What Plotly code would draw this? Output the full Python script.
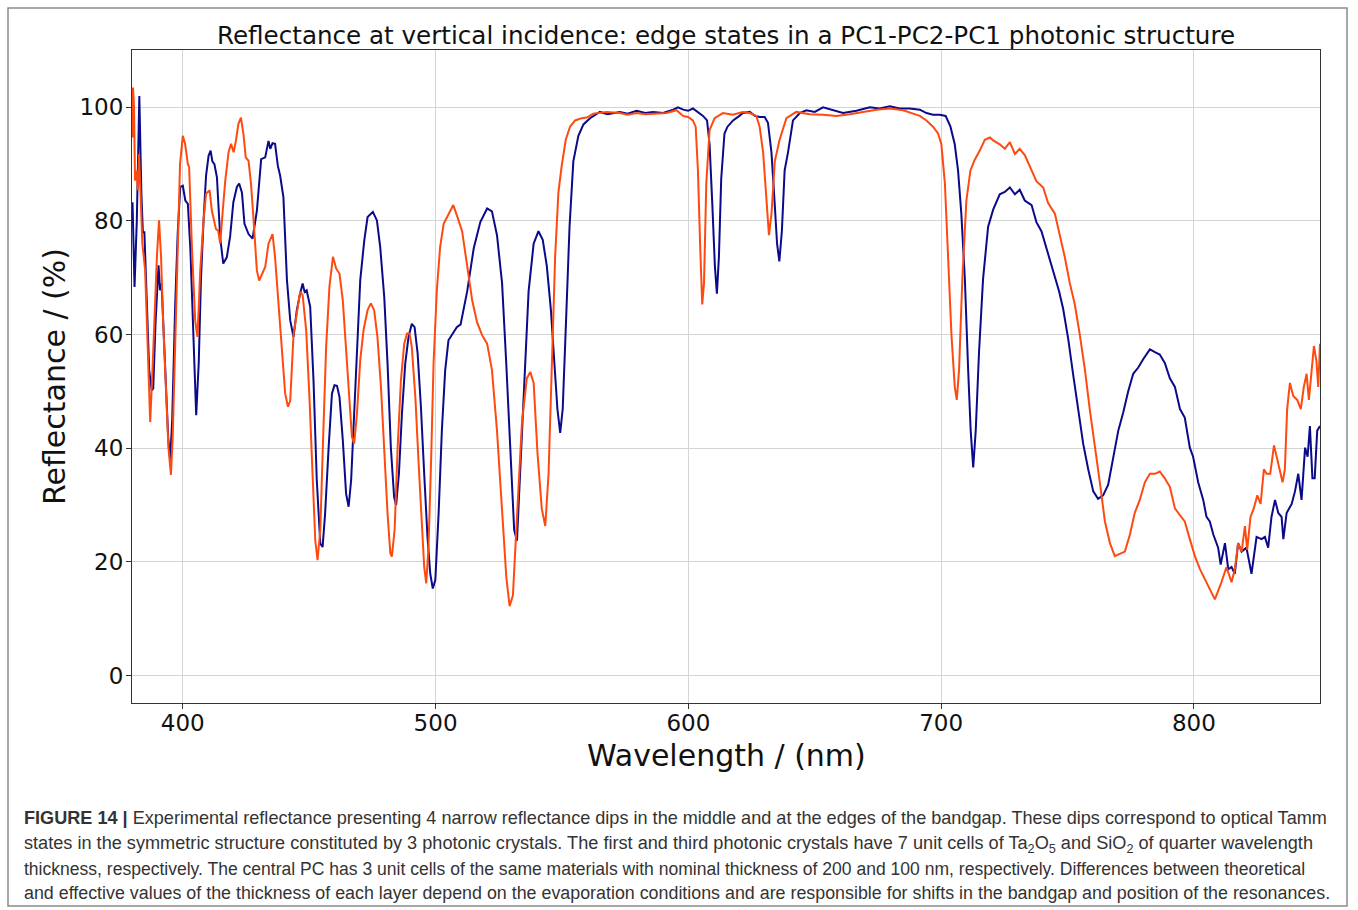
import plotly.graph_objects as go

# ---------------- data ----------------
blue_wl = [380.1, 380.9, 381.8, 382.8, 383.6, 384.2, 384.8, 385.5, 386.7, 387.2, 387.7, 388.3, 389.2, 390.4, 391.0, 391.6,
           393.0, 394.2, 395.0, 395.8, 397.0, 398.0, 399.0, 400.0, 401.0, 402.0, 403.0, 404.3, 405.3, 406.3, 407.2, 408.2,
           409.2, 410.2, 411.0, 411.7, 412.5, 413.5, 414.8, 416.0, 417.4, 418.7, 420.0, 421.4, 422.3, 423.4, 424.4, 426.0,
           427.6, 429.3, 431.0, 432.6, 433.9, 434.6, 435.5, 436.5, 437.6, 438.5, 439.8, 441.2, 442.5, 443.8, 445.1, 446.4,
           447.4, 448.2, 449.0, 450.4, 451.7, 453.0, 454.4, 455.3, 456.3, 457.7, 459.0, 460.0, 461.0, 462.0, 463.3, 464.6,
           465.6, 466.6, 467.8, 469.1, 470.2, 471.8, 473.1, 475.2, 476.8, 478.1, 479.7, 481.0, 482.3, 483.6, 484.4, 485.5,
           486.7, 488.0, 489.3, 490.6, 491.7, 492.9, 494.2, 495.5, 496.8, 497.9, 498.9, 499.9, 501.2, 502.5, 503.8, 505.1,
           506.6, 508.4, 509.9, 512.5, 515.1, 517.7, 520.4, 522.3, 524.3, 526.3, 528.0, 529.6, 531.1, 532.2, 533.5, 535.1,
           536.8, 538.8, 540.7, 542.4, 544.0, 545.6, 546.9, 548.2, 549.3, 550.3, 551.6, 553.0, 554.5, 556.5, 558.5, 561.1,
           565.0, 568.0, 572.9, 576.0, 579.5, 583.0, 586.0, 590.0, 594.0, 595.9, 598.0, 599.9, 601.8, 603.8, 605.8, 607.4,
           608.4, 609.5, 610.5, 611.3, 612.1, 613.0, 614.3, 615.5, 617.7, 620.2, 621.6, 624.3, 626.3, 628.2, 630.2, 631.5,
           632.9, 634.2, 635.1, 636.0, 637.0, 638.1, 639.4, 641.4, 644.1, 646.7, 650.0, 653.3, 657.3, 661.2, 666.5, 671.8,
           675.7, 679.7, 683.6, 687.6, 691.6, 694.2, 696.8, 699.5, 701.8, 703.7, 705.4, 706.7, 708.0, 709.4, 710.7, 711.7,
           712.7, 713.7, 715.0, 716.6, 718.6, 720.6, 723.2, 725.2, 727.2, 729.2, 731.1, 733.1, 735.8, 737.7, 739.7, 741.7,
           744.3, 746.7, 748.3, 750.3, 752.2, 754.2, 756.2, 758.2, 760.2, 762.1, 764.1, 766.1, 768.1, 770.1, 772.0, 774.0,
           776.0, 778.0, 780.0, 782.6, 784.6, 786.5, 788.5, 790.5, 792.5, 794.5, 796.4, 798.4, 799.7, 801.7, 803.7, 805.0,
           806.3, 807.7, 809.6, 810.6, 812.3, 813.6, 814.9, 816.2, 817.5, 818.9, 820.8, 822.8, 824.8, 826.8, 828.1, 829.4,
           830.7, 832.1, 833.4, 834.7, 835.4, 836.7, 838.7, 840.0, 841.3, 842.6, 844.0, 845.0, 845.9, 846.9, 847.8, 848.8,
           849.9]
blue_r = [83.3, 68.4, 80.0, 102.0, 85.0, 78.0, 78.0, 70.0, 53.7, 52.0, 50.2, 50.5, 62.0, 72.2, 67.8, 69.0,
          55.0, 42.0, 37.9, 45.0, 65.4, 78.0, 86.0, 86.2, 83.6, 83.0, 75.0, 58.0, 45.8, 55.0, 70.0, 80.0,
          88.0, 91.5, 92.4, 90.5, 90.0, 87.7, 77.0, 72.5, 73.6, 77.2, 83.3, 86.0, 86.6, 85.0, 79.5, 77.7,
          76.9, 81.8, 90.9, 91.2, 94.1, 92.7, 93.7, 93.6, 89.7, 88.0, 84.2, 69.6, 62.5, 59.6, 64.3, 67.2,
          69.0, 67.5, 67.8, 64.9, 52.0, 34.4, 23.2, 22.6, 28.5, 40.2, 49.6, 51.1, 51.0, 49.0, 41.4, 32.0,
          29.7, 34.4, 46.1, 60.8, 69.6, 76.6, 80.7, 81.6, 80.1, 75.4, 66.6, 54.9, 40.2, 31.4, 30.0, 35.5,
          46.1, 54.9, 59.6, 61.9, 61.3, 56.7, 47.3, 35.5, 24.4, 17.9, 15.3, 16.8, 28.5, 43.2, 53.7, 59.0,
          60.0, 61.3, 61.8, 67.6, 75.2, 79.8, 82.2, 81.7, 77.5, 69.1, 54.6, 39.3, 25.6, 23.7, 35.5, 52.3,
          67.6, 76.0, 78.2, 76.7, 72.1, 64.5, 54.6, 46.9, 42.7, 46.9, 62.2, 79.0, 90.5, 95.0, 97.0, 98.1,
          99.2, 98.8, 99.2, 98.9, 99.4, 99.0, 99.2, 99.0, 99.6, 100.0, 99.6, 99.4, 99.8, 99.2, 98.5, 97.7,
          93.5, 82.8, 72.1, 67.2, 73.7, 87.4, 95.4, 96.6, 97.7, 98.5, 99.0, 99.2, 98.5, 98.3, 98.3, 97.3,
          92.0, 82.8, 76.0, 72.9, 78.2, 88.9, 92.0, 97.7, 99.0, 99.5, 99.2, 100.0, 99.5, 99.0, 99.4, 100.0,
          99.8, 100.2, 99.8, 99.8, 99.6, 99.0, 98.7, 98.7, 98.5, 96.6, 93.5, 88.9, 81.3, 69.8, 53.8, 43.1,
          36.6, 43.1, 56.9, 69.8, 79.0, 82.0, 84.7, 85.1, 85.9, 84.7, 85.5, 83.6, 82.8, 79.8, 78.2, 75.2,
          71.4, 67.6, 64.5, 59.2, 53.1, 46.9, 40.8, 36.3, 32.4, 31.1, 31.7, 33.6, 38.5, 43.1, 46.2, 50.0,
          53.1, 54.2, 55.7, 57.4, 56.9, 56.5, 55.0, 52.3, 50.8, 46.9, 45.4, 40.1, 38.5, 34.0, 30.9, 27.9,
          27.1, 24.8, 22.5, 19.5, 23.3, 18.7, 19.1, 17.9, 23.3, 21.8, 22.5, 17.9, 24.4, 24.0, 24.4, 22.5,
          27.9, 30.9, 28.6, 27.9, 24.0, 28.6, 30.2, 32.4, 35.5, 30.9, 40.1, 38.5, 43.9, 34.7, 34.7, 43.1,
          43.9]

orange_wl = [380.1, 380.3, 380.7, 381.1, 381.8, 382.2, 382.7, 383.2, 384.0, 385.1, 385.9, 387.1, 388.0, 389.0, 389.8, 390.6,
             391.4, 392.2, 393.3, 394.3, 395.3, 396.0, 397.0, 398.0, 398.9, 400.0, 400.9, 402.0, 402.5, 403.6, 404.9, 405.8,
             406.9, 408.2, 409.2, 409.9, 410.6, 411.5, 412.4, 413.1, 414.0, 414.8, 415.8, 416.8, 418.1, 419.1, 420.1, 421.0,
             422.0, 423.0, 424.0, 424.9, 426.0, 427.0, 428.0, 429.3, 430.2, 431.3, 432.6, 433.9, 435.5, 436.5, 437.9, 439.2,
             440.5, 441.6, 442.5, 443.8, 445.1, 446.4, 447.4, 448.8, 450.1, 451.5, 452.4, 453.3, 454.4, 455.4, 456.7, 458.0,
             459.4, 460.7, 462.0, 463.3, 464.6, 466.0, 466.9, 467.8, 468.9, 470.2, 471.5, 473.1, 474.4, 475.7, 477.0, 478.4,
             479.7, 481.0, 482.1, 482.7, 483.8, 485.0, 486.3, 487.6, 488.7, 489.7, 490.6, 492.0, 493.3, 494.6, 495.5, 496.3,
             497.2, 498.2, 499.2, 500.5, 501.8, 503.2, 504.5, 505.8, 507.0, 508.5, 510.5, 512.5, 514.5, 516.4, 518.4, 520.4,
             522.3, 524.3, 526.3, 528.0, 529.3, 530.6, 532.2, 534.2, 536.1, 537.5, 538.8, 540.3, 542.0, 543.4, 544.7, 546.0,
             547.3, 548.6, 549.9, 551.5, 553.2, 555.2, 557.8, 559.8, 562.4, 567.7, 572.9, 576.0, 579.5, 583.0, 586.0, 591.3,
             595.3, 597.9, 599.9, 601.8, 602.9, 603.8, 604.7, 605.5, 606.2, 607.1, 608.4, 610.4, 613.7, 617.6, 621.5, 624.3,
             626.9, 628.2, 629.6, 630.9, 631.9, 632.9, 634.2, 636.1, 638.8, 642.7, 648.0, 653.3, 658.6, 663.9, 669.1, 674.4,
             679.7, 685.0, 688.9, 691.6, 694.2, 696.8, 698.8, 700.1, 701.5, 702.8, 704.1, 705.4, 706.2, 707.1, 708.4, 710.0,
             711.6, 713.3, 715.3, 717.3, 719.3, 720.6, 723.2, 725.2, 727.2, 729.2, 731.1, 733.1, 735.1, 737.7, 740.4, 742.3,
             745.0, 747.0, 748.9, 750.9, 752.9, 754.9, 756.9, 758.8, 760.8, 762.8, 764.8, 766.8, 768.7, 770.7, 772.7, 774.7,
             776.6, 778.6, 780.6, 782.6, 784.6, 786.5, 788.5, 790.5, 792.5, 794.5, 796.4, 798.4, 800.4, 802.4, 804.4, 806.3,
             808.3, 809.6, 810.9, 812.9, 814.9, 816.2, 817.5, 818.9, 820.2, 821.1, 822.4, 823.7, 825.1, 826.4, 827.7, 828.8,
             830.2, 831.7, 832.7, 834.0, 835.1, 836.0, 836.9, 838.0, 839.3, 840.9, 842.3, 843.5, 844.6, 845.5, 846.6, 847.5,
             848.5, 849.2, 849.9]
orange_r = [94.7, 103.5, 100.0, 87.1, 88.9, 85.4, 91.8, 85.4, 76.0, 71.3, 59.6, 44.6, 53.7, 66.6, 74.2, 80.1,
            73.6, 62.5, 50.2, 40.2, 35.3, 42.0, 58.4, 77.2, 90.0, 95.0, 93.6, 90.0, 89.5, 75.4, 62.5, 59.6,
            71.3, 80.1, 84.8, 85.1, 85.4, 81.8, 80.1, 78.6, 78.3, 76.0, 81.8, 87.1, 92.1, 93.6, 92.1, 94.1,
            97.1, 98.2, 95.3, 91.2, 90.6, 86.5, 80.1, 71.3, 69.5, 70.7, 71.9, 76.0, 77.7, 73.6, 65.4, 56.6,
            49.6, 47.3, 48.4, 60.0, 64.0, 67.5, 67.0, 60.8, 49.0, 34.4, 23.8, 20.3, 25.6, 40.2, 57.8, 68.4,
            73.7, 71.6, 70.7, 66.0, 57.8, 47.3, 42.0, 40.8, 46.1, 55.5, 60.8, 64.3, 65.5, 64.3, 59.6, 50.8,
            39.1, 28.5, 21.5, 20.9, 25.6, 40.2, 52.0, 58.4, 60.2, 60.2, 57.8, 49.0, 37.3, 26.2, 19.1, 16.2,
            22.6, 37.3, 54.9, 67.8, 75.4, 79.5, 80.7, 81.9, 82.8, 80.9, 78.2, 72.1, 66.0, 62.2, 59.9, 58.4,
            53.8, 43.1, 29.4, 17.2, 12.2, 14.1, 27.9, 44.7, 52.3, 53.4, 51.5, 39.3, 29.4, 26.3, 35.5, 54.6,
            73.7, 85.1, 89.7, 94.3, 96.6, 97.7, 98.1, 98.2, 98.9, 99.2, 99.0, 98.7, 99.0, 98.8, 98.9, 99.0,
            99.5, 98.5, 98.3, 97.7, 96.6, 88.9, 75.2, 65.3, 69.1, 86.6, 96.0, 98.1, 99.0, 98.7, 99.2, 99.0,
            98.5, 96.6, 92.0, 83.6, 77.5, 81.3, 90.5, 94.3, 98.1, 99.2, 98.8, 98.7, 98.5, 98.8, 99.2, 99.6,
            99.8, 99.5, 98.9, 98.5, 97.7, 96.6, 95.4, 93.5, 86.6, 73.7, 59.9, 50.8, 48.5, 53.8, 69.8, 83.6,
            88.9, 90.8, 92.4, 94.3, 94.7, 94.2, 93.5, 92.7, 93.9, 91.8, 92.7, 91.6, 89.7, 87.0, 85.9, 83.2,
            81.3, 77.5, 73.7, 69.1, 65.3, 59.9, 53.8, 46.9, 40.8, 34.0, 27.1, 23.3, 21.0, 21.4, 21.8, 24.8,
            28.6, 30.9, 34.0, 35.5, 35.5, 35.9, 34.7, 33.2, 29.4, 28.2, 27.1, 24.0, 21.0, 18.7, 16.8, 15.3,
            13.4, 14.9, 16.4, 19.1, 16.4, 18.7, 23.3, 21.8, 26.3, 22.1, 27.9, 29.4, 31.7, 30.2, 36.3, 35.5,
            35.5, 40.5, 38.5, 36.3, 34.0, 36.3, 46.9, 51.5, 49.2, 48.5, 46.9, 50.8, 53.1, 48.5, 53.8, 58.0,
            55.3, 50.8, 58.4]

x_ticks = [400, 500, 600, 700, 800]
y_ticks = [0, 20, 40, 60, 80, 100]

title_text = "Reflectance at vertical incidence: edge states in a PC1-PC2-PC1 photonic structure"
x_title = "Wavelength / (nm)"
y_title = "Reflectance / (%)"
caption_lines = [
    "<b>FIGURE 14 |</b> Experimental reflectance presenting 4 narrow reflectance dips in the middle and at the edges of the bandgap. These dips correspond to optical Tamm",
    "states in the symmetric structure constituted by 3 photonic crystals. The first and third photonic crystals have 7 unit cells of Ta<sub>2</sub>O<sub>5</sub> and SiO<sub>2</sub> of quarter wavelength",
    "thickness, respectively. The central PC has 3 unit cells of the same materials with nominal thickness of 200 and 100 nm, respectively. Differences between theoretical",
    "and effective values of the thickness of each layer depend on the evaporation conditions and are responsible for shifts in the bandgap and position of the resonances.",
]

# ---------------- layout geometry ----------------
W, H = 1358, 910
L, R, T, B = 132, 1320, 50, 703


def px_x(x):
    return (x - L) / (R - L)


def px_y(y):
    return (B - y) / (B - T)


fig = go.Figure()
fig.add_trace(go.Scatter(x=blue_wl, y=blue_r, mode="lines",
                         line=dict(color="#0a0a8a", width=2), showlegend=False))
fig.add_trace(go.Scatter(x=orange_wl, y=orange_r, mode="lines",
                         line=dict(color="#ff4a0f", width=2), showlegend=False))

axis_font = dict(family="DejaVu Sans", size=23, color="#111")
fig.update_xaxes(range=[379.9, 849.9], tickvals=x_ticks, ticks="outside", ticklen=5,
                 tickcolor="#333", showgrid=True, gridcolor="#d4d4d4", gridwidth=1,
                 showline=True, linecolor="#333", linewidth=1, mirror=True,
                 zeroline=False, tickfont=axis_font, ticklabelstandoff=-6)
fig.update_yaxes(range=[-4.85, 110.1], tickvals=y_ticks, ticks="outside", ticklen=5,
                 tickcolor="#333", showgrid=True, gridcolor="#d4d4d4", gridwidth=1,
                 showline=True, linecolor="#333", linewidth=1, mirror=True,
                 zeroline=False, tickfont=axis_font, ticklabelstandoff=-2)

annotations = [
    dict(text=title_text, x=0.5, y=px_y(35), xref="paper", yref="paper",
         xanchor="center", yanchor="middle", showarrow=False,
         font=dict(family="DejaVu Sans", size=24.6, color="#111")),
    dict(text=x_title, x=0.5, y=px_y(755), xref="paper", yref="paper",
         xanchor="center", yanchor="middle", showarrow=False,
         font=dict(family="DejaVu Sans", size=30, color="#111")),
    dict(text=y_title, x=px_x(55), y=px_y(377), xref="paper", yref="paper",
         xanchor="center", yanchor="middle", showarrow=False, textangle=-90,
         font=dict(family="DejaVu Sans", size=30, color="#111")),
]
cap_y = [818, 844, 869, 893]
cap_size = [18.1, 18.15, 17.55, 17.85]
for line, yy, fs in zip(caption_lines, cap_y, cap_size):
    annotations.append(dict(text=line, x=px_x(22), y=px_y(yy), xref="paper", yref="paper",
                            xanchor="left", yanchor="middle", showarrow=False,
                            font=dict(family="Liberation Sans, Arial, sans-serif",
                                      size=fs, color="#333")))

fig.update_layout(
    width=W, height=H,
    margin=dict(l=L, r=W - R, t=T, b=H - B),
    paper_bgcolor="white", plot_bgcolor="white",
    annotations=annotations,
    shapes=[dict(type="rect", xref="paper", yref="paper",
                 x0=px_x(8), x1=px_x(1347), y0=px_y(906), y1=px_y(8),
                 line=dict(color="#8a8a8a", width=1.5), layer="below")],
)

fig.write_html("out.html")
